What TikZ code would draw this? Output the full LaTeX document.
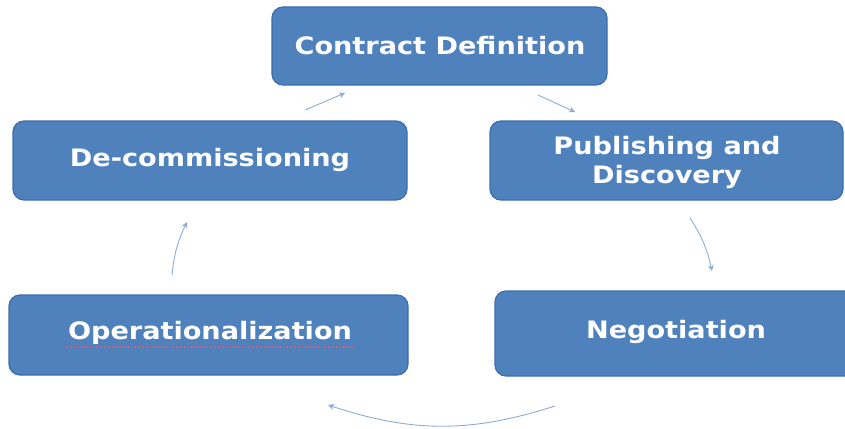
\documentclass[tikz,border=0pt]{standalone}
\usepackage{fontspec}
\setmainfont{DejaVu Sans}
\usetikzlibrary{arrows.meta}
\definecolor{boxblue}{HTML}{4F81BD}
\definecolor{boxedge}{HTML}{3E6DAE}
\definecolor{arrowblue}{HTML}{8FAAD6}
\definecolor{spellred}{HTML}{C8607A}
\newcommand{\wide}[1]{\scalebox{1.13}[1]{#1}}
\begin{document}
\begin{tikzpicture}[x=1pt,y=-1pt,
  box/.style={draw=boxedge, line width=1.2pt, fill=boxblue, rounded corners=11pt},
  lbl/.style={text=white, font=\bfseries\fontsize{24}{30}\selectfont, align=center, inner sep=0pt},
  cyc/.style={draw=arrowblue, line width=0.9pt, -{Stealth[length=6pt,width=6pt]}}]
\useasboundingbox (0,0) rectangle (845,428);
\draw[box] (272,7) rectangle (607,85);
\draw[box] (13,121) rectangle (407,200);
\draw[box] (490,121) rectangle (843,200);
\draw[box] (9,295) rectangle (408,375);
\draw[box] (495,291) rectangle (860,376);
\node[lbl] (cd) at (440,46) {\wide{Contract Definition}};
\node[lbl] (dc) at (210,160) {\wide{De-commissioning}};
\node[lbl] (pd) at (667,163) {\wide{\begin{tabular}{@{}c@{}}Publishing and\\[-1pt]Discovery\end{tabular}}};
\node[lbl] (op) at (210,333) {\wide{Operationalization}};
\node[lbl] (ng) at (676,332) {\wide{Negotiation}};
\coordinate (u1) at (66,347); \coordinate (u2) at (356,347);
\draw[spellred, line width=1.8pt, dotted] (u1) -- (u2);
\coordinate (a1) at (305,110); \coordinate (a2) at (345,93);
\coordinate (b1) at (538,95);  \coordinate (b2) at (575,112);
\coordinate (c1) at (690,218); \coordinate (c2) at (712,271);
\coordinate (d1) at (555,406); \coordinate (d2) at (328,405);
\coordinate (e1) at (172,275); \coordinate (e2) at (187,222);
\draw[cyc] (a1) -- (a2);
\draw[cyc] (b1) -- (b2);
\draw[cyc] (c1) to[bend left=10] (c2);
\draw[cyc] (d1) to[bend left=18] (d2);
\draw[cyc] (e1) to[bend left=10] (e2);
\end{tikzpicture}
\end{document}
